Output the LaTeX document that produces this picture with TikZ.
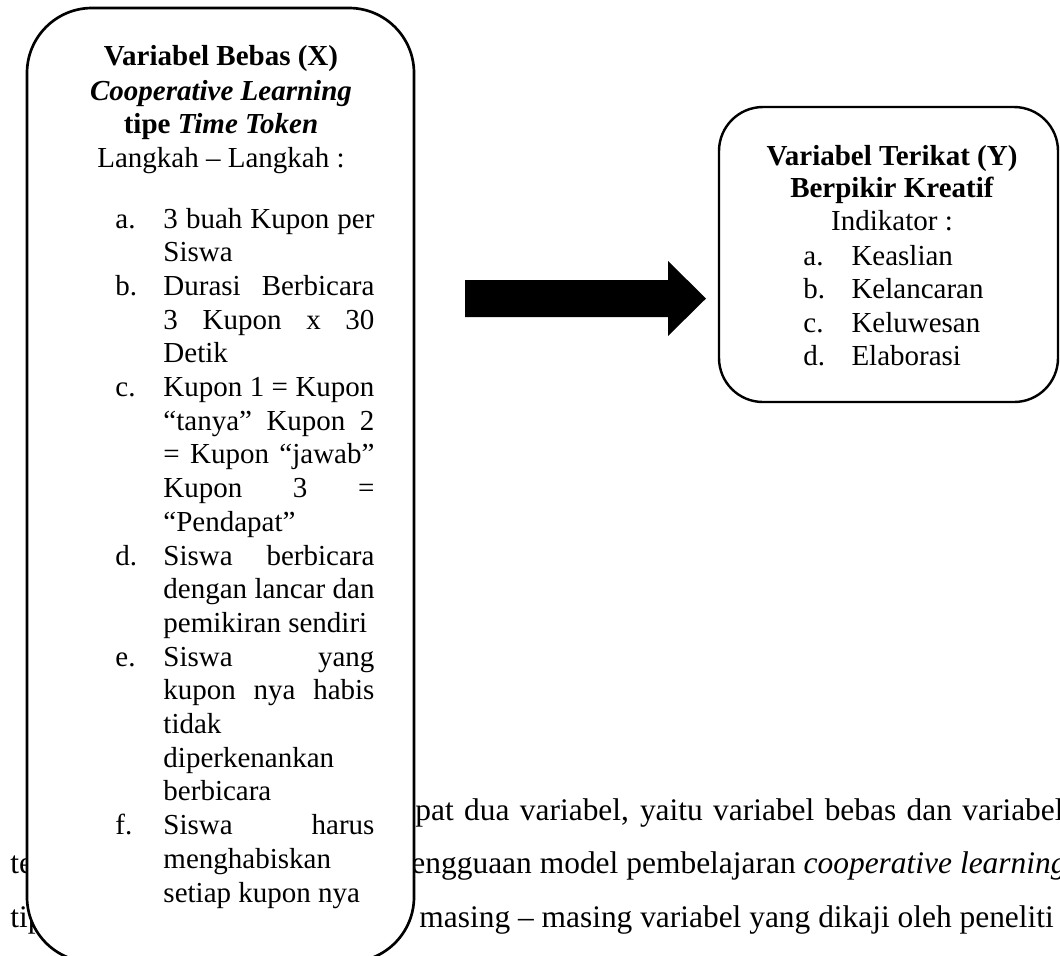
\documentclass[tikz,border=0pt]{standalone}
\usepackage{fontspec}
\setmainfont{Liberation Serif}
\newlength{\pxu}\setlength{\pxu}{0.4138pt}
\newcommand{\jl}[1]{\makebox[211\pxu][s]{#1}}
\begin{document}
\begin{tikzpicture}[x=0.4138pt,y=-0.4138pt,
  boxst/.style={draw, line width=1.1pt, fill=white, inner sep=0pt},
  hd/.style={anchor=base, inner sep=0pt, font=\fontsize{12}{14}\selectfont},
  txt/.style={anchor=base west, inner sep=0pt, font=\fontsize{12}{14}\selectfont},
  body/.style={anchor=base west, inner sep=0pt, font=\fontsize{13}{15}\selectfont},
  blockarrow/.style={fill=black}]
\useasboundingbox (0,0) rectangle (1060,955);
\clip (0,0) rectangle (1060,955);

% paragraph text behind the left box
\node[body] (t1) at (10,873) {te};
\node[body] (t2) at (10,927) {tip};
\node[body] (r1) at (415,820) {\makebox[648\pxu][s]{pat dua variabel, yaitu variabel bebas dan variabel}};
\node[body] (r2) at (411,873) {\makebox[655\pxu][s]{engguaan model pembelajaran \textit{cooperative learning}}};
\node[body] (r3) at (419,927) {masing – masing variabel yang dikaji oleh peneliti};

% boxes
\node[boxst, rounded corners=26.9pt, minimum width=160.14pt, minimum height=394.77pt] (L) at (220.5,485) {};
\node[boxst, line width=1pt, rounded corners=18.2pt, minimum width=140.28pt, minimum height=122.07pt] (R) at (888.5,254.5) {};

% block arrow
\fill[blockarrow] (465,280) -- (668,280) -- (668,261) -- (706,298.5) -- (668,336) -- (668,317) -- (465,317) -- cycle;

% left box text
\node[hd] (h1) at (221,65) {\textbf{Variabel Bebas (X)}};
\node[hd] (h2) at (221,100) {\textbf{\textit{Cooperative Learning}}};
\node[hd] (h3) at (221,133) {\textbf{tipe \textit{Time Token}}};
\node[hd] (h4) at (221,167) {Langkah – Langkah :};

\node[txt] (la) at (115,228) {a.};
\node[txt] (a1) at (163,228) {\jl{3 buah Kupon per}};
\node[txt] (a2) at (163,261.7) {Siswa};
\node[txt] (lb) at (115,295.4) {b.};
\node[txt] (b1) at (163,295.4) {\jl{Durasi Berbicara}};
\node[txt] (b2) at (163,329.1) {\jl{3 Kupon x 30}};
\node[txt] (b3) at (163,362.8) {Detik};
\node[txt] (lc) at (115,396.5) {c.};
\node[txt] (c1) at (163,396.5) {\jl{Kupon 1 = Kupon}};
\node[txt] (c2) at (163,430.2) {\jl{“tanya” Kupon 2}};
\node[txt] (c3) at (163,463.9) {\jl{= Kupon “jawab”}};
\node[txt] (c4) at (163,497.6) {\jl{Kupon 3 =}};
\node[txt] (c5) at (163,531.3) {“Pendapat”};
\node[txt] (ld) at (115,565) {d.};
\node[txt] (d1) at (163,565) {\jl{Siswa berbicara}};
\node[txt] (d2) at (163,598.7) {\jl{dengan lancar dan}};
\node[txt] (d3) at (163,632.4) {pemikiran sendiri};
\node[txt] (le) at (115,666.1) {e.};
\node[txt] (e1) at (163,666.1) {\jl{Siswa yang}};
\node[txt] (e2) at (163,699.8) {\jl{kupon nya habis}};
\node[txt] (e3) at (163,733.5) {tidak};
\node[txt] (e4) at (163,767.2) {diperkenankan};
\node[txt] (e5) at (163,800.9) {berbicara};
\node[txt] (lf) at (115,834.6) {f.};
\node[txt] (f1) at (163,834.6) {\jl{Siswa harus}};
\node[txt] (f2) at (163,868.3) {menghabiskan};
\node[txt] (f3) at (163,902) {setiap kupon nya};

% right box text
\node[hd] (g1) at (892,165) {\textbf{Variabel Terikat (Y)}};
\node[hd] (g2) at (892,197) {\textbf{Berpikir Kreatif}};
\node[hd] (g3) at (892,230) {Indikator :};
\node[txt] (ma) at (803,265) {a.};
\node[txt] (ia) at (851,265) {Keaslian};
\node[txt] (mb) at (803,298.5) {b.};
\node[txt] (ib) at (851,298.5) {Kelancaran};
\node[txt] (mc) at (803,332) {c.};
\node[txt] (ic) at (851,332) {Keluwesan};
\node[txt] (md) at (803,365.5) {d.};
\node[txt] (id) at (851,365.5) {Elaborasi};
\end{tikzpicture}
\end{document}
